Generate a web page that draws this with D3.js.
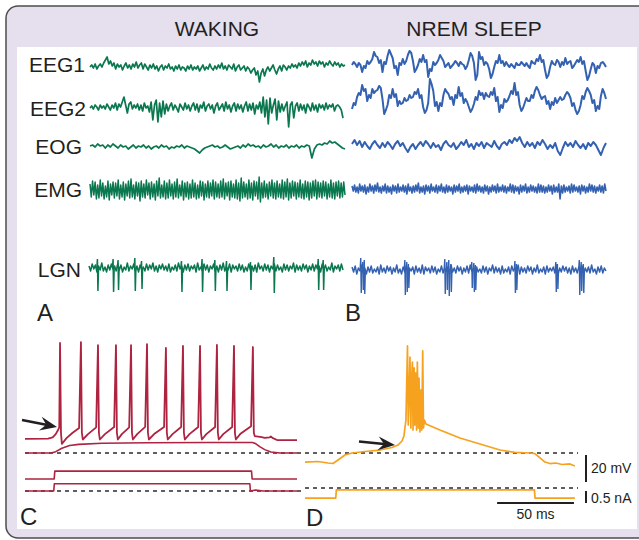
<!DOCTYPE html>
<html>
<head>
<meta charset="utf-8">
<script src="https://d3js.org/d3.v7.min.js"></script>
<style>
  body { margin: 0; background: #fff; }
  svg { display: block; }
  text { font-family: "Liberation Sans", Arial, Helvetica, sans-serif; fill: #231f20; }
</style>
</head>
<body>
<svg id="fig"></svg>
<script>
// ---- data (arbitrary units ~ px) ----
const states = ["WAKING", "NREM SLEEP"];
const channels = ["EEG1", "EEG2", "EOG", "EMG", "LGN"];
const panelLetters = ["A", "B", "C", "D"];

const eeg1Wake = [0,2,-1,3,-2,1,3,0,4,7,10,3,6,1,4, -2,3,0,2,-3,1,4,-1,2,-2,3,0,5,-1,2,
  4,-2,3,0,-3,2,-1,3,-2,1,-4,0,2,-3,1, -1,3,-2,0,-4,1,-2,2,-3,0,-1,-4,1,-2,2,
  -3,0,-2,1,-4,-1,2,-3,0,-2,3,-1,-3,1,-2, 2,-1,4,-2,1,-3,2,0,-2,3,-4,0,2,-3,-1,
  1,-4,0,-2,-6,-3,-1,-8,-4,-15,-6,-2,-9,-3,0, -4,-1,2,-3,-7,-2,1,-4,2,0,-3,1,-1,3,0,
  2,-1,4,1,5,2,6,0,4,2,7,3,5,1,6, 3,5,0,4,2,6,3,1,5,2,4,0,3,1,2];
const eeg2Wake = [0,2,-1,3,1,-2,3,0,2,-1,4,1,-2,3,0, 5,-2,4,1,6,11,3,-5,4,6,-1,3,0,4,-2,
  3,-3,5,0,2,-4,6,-12,3,8,-14,5,-9,7,-6, 4,-3,2,5,-2,3,0,-4,4,1,-2,5,-1,3,-3,
  2,5,-2,4,-4,3,0,6,-3,2,4,-1,3,-5,2, 5,-2,1,4,-3,6,-1,3,-4,2,5,-3,4,-1,3,
  -4,2,6,-3,4,-2,5,-6,3,-1,6,-5,11,-9,8, -16,10,-5,3,9,-12,7,-4,4,-3,2,6,-19,3,6,
  -10,2,5,-3,4,-2,3,-5,4,1,-3,5,-2,3,-4, 4,0,3,-2,5,-1,3,1,4,-3,2,3,1,-2,-10];
const eogWake = [1,2,0,3,1,2,-1,2,0,3, 1,-1,2,0,1,-2,0,2,-1,1, 0,2,-1,1,-2,0,1,-1,2,0,
  1,-2,0,-1,1,0,2,-1,1,0, -1,-2,-4,-6,-3,-1,0,1,2,0, 1,-1,0,2,0,-2,-1,0,1,-1,
  2,0,3,1,2,0,1,-1,2,0, 1,3,0,2,-1,1,0,2,-1,1, 0,2,-1,1,0,2,1,-11,-2,2, 3,2,4,3,6,4,5,3,1,-1,-2];
const emgWake = [6,-7,9,-5,8,-9,5,-8,10,-6,7,-9,4,-7,9,-10,6,-5,8,-8,
  7,-6,10,-9,5,-7,8,-10,6,-6,9,-8,11,-7,5,-9,8,-6,7,-11,
  9,-7,6,-8,10,-5,7,-9,8,-7,6,-10,9,-6,12,-8,5,-7,9,-9,
  7,-8,10,-6,6,-9,8,-7,11,-8,5,-6,9,-10,7,-7,8,-9,6,-8,
  10,-7,7,-9,5,-8,9,-6,8,-10,6,-7,9,-8,7,-6,10,-9,8,-7,
  6,-8,9,-7,11,-9,7,-6,8,-10,9,-7,6,-8,10,-9,7,-11,12,-8,
  8,-7,6,-9,10,-8,7,-10,9,-6,8,-9,13,-12,7,-8,9,-7,6,-9,
  8,-6,10,-8,7,-9,9,-7,6,-8,10,-9,8,-7,11,-10,7,-8,9,-6,
  8,-9,7,-7,10,-8,6,-9,9,-7,8,-10,7,-8,9,-6,10,-9,8,-7,
  7,-8,9,-6,8,-9,6,-7,10,-8,7,-9,8,-6,9,-8,7,-7,8,-5];
const lgnWakeNoise = [2,-3,4,-1,3,-4,2,-2,5,-3,1,-4,3,-2,4,-1,2,-3,4,-2,
  3,-4,1,-2,5,-3,2,-1,4,-3,2,-4,3,-2,1,-3,4,-2,3,-1,
  5,-3,2,-4,3,-1,4,-2,2,-3,4,-4,1,-2,3,-3,5,-1,2,-4,
  3,-2,4,-3,2,-1,3,-4,5,-2,1,-3,4,-2,3,-4,2,-1,4,-3,
  2,-4,3,-2,5,-3,1,-2,4,-4,3,-1,2,-3,4,-2,3,-4,1,-3,
  4,-2,2,-3,3,-4,5,-1,2,-3,4,-2,3,-4,2,-1,4,-3,3,-2,
  1,-4,4,-2,3,-3,2,-1,5,-4,3,-2,2,-3,4,-1,3,-4,2,-2,
  4,-3,3,-1,2,-4,4,-2,3,-3,1,-2,5,-4,2,-1,3,-3,4,-2];
// [sample position, down-deflection, up-deflection]
const lgnWakeSpikes = [[5.4,23,9],[15.2,24,9],[18.3,22,8],[28.8,23,10],[33,21,7],[58,24,7],
  [70.9,24,9],[78.9,23,8],[86.2,23,7],[101.2,22,6],[115.8,25,11],[143.6,22,9],[146.7,22,8]];

const eeg1Nrem = [0,3,1,-2,2,0,-7,-1,-3,4,1,3,6,13,9,8,2,5,-7,3,1,9,15,11,7,-3,-1,-10,2,0,
  6,1,4,10,14,12,4,-7,-4,0,6,3,10,3,5,-12,-4,-6,3,0,2,5,10,7,4,-2,0,2,-3,-1,
  1,4,2,-1,3,1,0,-4,-1,5,12,9,2,-15,-10,13,6,8,0,3,1,-4,-13,-9,-2,4,2,10,2,4,
  -1,3,0,-2,1,-1,-3,2,0,0,3,1,-1,2,-1,-3,4,2,1,6,4,10,3,5,-5,-13,-10,-2,4,1,
  0,5,3,-2,3,0,7,1,3,4,-3,-1,2,5,3,8,1,4,-6,-15,-11,-4,2,0,-8,-1,-3,2,3,1,-2];
const eeg2Nrem = [-8,-2,-4,4,8,6,16,10,12,0,6,3,12,8,10,11,15,13,2,-13,-9,-4,6,3,12,4,7,-5,0,-3,
  -2,3,0,1,6,3,4,9,7,12,3,6,-6,-12,-9,-2,22,17,10,-5,-1,-10,-2,-5,6,12,9,7,2,4,
  -4,6,3,14,5,8,-2,2,-1,-6,-11,-8,-3,4,1,10,6,8,2,8,5,4,9,6,13,0,4,-11,-4,-7,
  2,-1,1,5,10,7,18,6,9,-4,-10,-7,-2,3,0,0,6,3,10,14,11,6,2,4,5,-3,0,-8,-1,-4,
  3,-2,1,4,1,2,6,9,7,3,-5,-2,-9,-13,-10,-4,5,2,9,13,10,6,-2,1,-10,-5,-8,5,12,8,2];
const eogNrem = [2,6,1,5,-1,4,0,-3,2,5, 1,-2,3,-1,4,1,-3,2,5,0, 3,-2,-6,-1,2,-3,1,4,0,5,
  2,-2,3,-1,1,-4,2,5,1,-1, 3,-3,0,4,1,6,-1,2,-3,3, 0,4,-2,3,1,-1,5,0,-3,2,
  4,1,6,3,8,5,9,3,-1,4, 0,3,-2,4,1,6,2,-3,1,-2, 3,-5,-9,-2,4,0,3,-1,5,1, -2,2,-3,3,0,4,1,-4,-9,-2,3];
const emgNrem = [3,-2,4,-3,2,-4,5,-2,3,-3,4,-5,2,-3,5,-2,3,-4,4,-2,
  6,-3,2,-4,3,-2,5,-4,3,-3,2,-5,4,-2,3,-4,5,-3,2,-2,
  4,-3,3,-5,5,-2,2,-4,3,-3,4,-2,6,-4,2,-3,3,-5,4,-2,
  3,-4,5,-2,2,-3,4,-4,3,-2,5,-3,2,-4,4,-3,3,-2,2,-5,
  4,-3,3,-2,5,-4,2,-3,3,-2,4,-5,3,-2,2,-3,4,-4,5,-2,
  3,-3,2,-4,4,-2,3,-5,2,-3,4,-2,3,-4,5,-3,2,-2,4,-3,
  3,-4,2,-2,5,-3,4,-4,3,-2,2,-5,4,-3,3,-2,5,-4,2,-3,
  4,-2,3,-3,2,-4,5,-3,4,-3,3,-4,2,-3,4,-2,3,-5,4,-3,
  2,-3,5,-10,3,-4,4,-3,2,-2,3,-4,5,-3,4,-2,2,-3,3,-5,
  4,-2,3,-4,2,-3,5,-2,4,-3,3,-4,2,-2,4,-3,3,-4,5,-2];
const lgnNremNoise = [3,-2,4,-4,2,-1,5,-3,2,-4,3,-2,4,-3,1,-2,3,-4,5,-2,
  2,-3,4,-1,3,-4,2,-2,5,-3,1,-4,3,-2,4,-3,2,-1,3,-4,
  4,-2,2,-3,5,-4,3,-1,2,-3,4,-2,3,-4,1,-2,4,-3,2,-1,
  3,-4,5,-2,2,-3,4,-1,3,-4,2,-2,4,-3,5,-1,2,-4,3,-2,
  1,-3,4,-2,3,-4,2,-1,5,-3,3,-2,2,-4,4,-3,1,-2,3,-4,
  4,-1,2,-3,5,-4,3,-2,2,-3,4,-1,3,-4,2,-2,5,-3,1,-2,
  3,-4,4,-2,2,-1,3,-3,5,-4,2,-2,4,-1,3,-3,2,-4,4,-2,
  2,-3,3,-1,4,-4,2,-2,3,-3,5,-2,1,-4,3,-2,4,-3,2,-1];
const lgnNremSpikes = [[5.6,23,12],[6.9,20,8],[7.8,24,10],[33.2,25,10],[34.4,22,8],[35.4,18,6],
  [58.2,24,11],[59.5,20,8],[60.7,26,10],[62,22,6],[75.1,18,8],[76.4,22,7],[77.3,20,5],
  [102.1,23,9],[103,20,6],[127.7,22,8],[128.7,19,6],[142.4,25,10],[143.6,21,8],[144.9,23,6]];

// panel C, [ms, mV]
const cSpiking = [[0,-54.5],[15,-54.3],[18,-53.5],[20,-51],[21.5,-48],[22.3,-46],[22.8,16.5],[23.4,-50],[24,-58.3],[27,-54],[31,-50],[35.2,-46.5],
  [36.4,17.2],[37,-50],[37.6,-55],[41,-51],[46.3,-46],
  [47.5,14.9],[48.1,-50],[48.7,-55],[52,-51],[58,-45.7],
  [59.2,14.9],[59.8,-50],[60.4,-55],[63,-51],[67.8,-46],
  [69,14.9],[69.6,-50],[70.2,-55],[73,-51],[78.2,-45.7],
  [79.4,15.7],[80,-50],[80.6,-55],[84,-51],[90.5,-45.7],
  [91.7,12.8],[92.3,-50],[92.9,-55],[96,-51],[101.6,-45.7],
  [102.8,14.3],[103.4,-50],[104,-55],[107,-51],[112.7,-45.7],
  [113.9,14.3],[114.5,-50],[115.1,-55],[118,-51],[123.7,-45.7],
  [124.9,15],[125.5,-50],[126.1,-55],[129,-51],[134.8,-45.7],
  [136,14.3],[136.6,-50],[137.2,-55],[140,-51],[147.1,-45.2],
  [148.3,13.5],[148.9,-50],[149.5,-52.5],[154,-53.3],[156,-53.8],[159,-53.5],[160,-52.8],[161,-53.8],[164,-55.4],[177,-55.4]];
const cSubthreshold = [[0,-65],[17,-65],[20,-64],[24,-61.5],[29,-59.5],[35,-58.6],[50,-57.8],[80,-57.4],[120,-57.2],
  [148,-57.2],[150,-58],[153,-60.5],[156,-62.5],[160,-64.3],[166,-65],[177,-65]];
// panel C currents, [ms, nA]
const cCurrentHigh = [[0,0.5],[19,0.5],[19.4,0.83],[147.4,0.83],[147.8,0.5],[177,0.5]];
const cCurrentLow = [[0,0],[18.7,0],[19.1,0.3],[146.3,0.3],[146.7,0],[150,0.04],[155,0],[177,0]];

// panel D, [ms, mV]
const dBurst = [[0,-71.7],[8.5,-71.3],[15,-72.4],[18.2,-72.8],[21.5,-70.2],[26,-66.5],[30.6,-65],[39,-63.9],[48.8,-62.8],
  [56.6,-60.9],[60.5,-59.1],[63.1,-56.1],[64.4,-52.4],[65,-46.5],
  [65.7,-40.6],[66.7,14.3],[67.2,-44.3],[67.7,-25.7],[68.3,6.1],[68.9,-46.5],[69.3,-11],[69.9,2.4],[70.3,-48],
  [71,-2],[71.5,-44.3],[72.1,-5.7],[72.6,-48],[73.1,2.4],[73.8,-46.5],[74.2,-9.6],[74.8,-49.4],[75.5,-18.3],
  [76,-48],[76.6,10.6],[77.1,-46.5],[77.7,-40.6],[78.7,-43.5],
  [87.8,-48],[100.8,-53.9],[113.9,-58.3],[126.9,-62.8],[136.6,-64.6],[146.4,-65],[149.6,-65.4],
  [156.2,-71.7],[159.4,-72.8],[163.3,-72.4],[167.2,-73.5],[172.4,-73.1],[175.6,-74.6]];
const dCurrent = [[0,-0.42],[20,-0.42],[20.4,-0.08],[149.3,-0.08],[149.7,-0.42],[175.6,-0.42]];

const scaleBars = { mV: 20, nA: 0.5, ms: 50 };

// ---- drawing ----
const W = 639, H = 540;
const svg = d3.select("#fig").attr("width", W).attr("height", H);

const green = "#0a774e", blue = "#3462b1", red = "#ad2340", orange = "#f6a21e";

// frame
svg.append("rect").attr("x", 6).attr("y", 6).attr("width", 680).attr("height", 532)
  .attr("rx", 12).attr("fill", "#e5dfee").attr("stroke", "#4d4d4d").attr("stroke-width", 1.5);
svg.append("rect").attr("x", 17).attr("y", 47).attr("width", 620).attr("height", 482).attr("fill", "#fff");

// headers
svg.selectAll("text.hdr").data(states).enter().append("text")
  .attr("class", "hdr")
  .attr("x", (d, i) => [217, 474][i]).attr("y", 36)
  .attr("text-anchor", "middle").attr("font-size", 21).text(d => d);

// row labels
const rowBase = [72, 116, 154, 197, 277];
const rowRight = [85, 86, 82, 82, 81];
svg.selectAll("text.lbl").data(channels).enter().append("text")
  .attr("class", "lbl")
  .attr("x", (d, i) => rowRight[i]).attr("y", (d, i) => rowBase[i])
  .attr("text-anchor", "end").attr("font-size", 21).text(d => d);

// panel letters
const letterPos = [[37, 320.5], [345, 320.5], [20, 525], [306, 526]];
svg.selectAll("text.letter").data(panelLetters).enter().append("text")
  .attr("class", "letter")
  .attr("x", (d, i) => letterPos[i][0]).attr("y", (d, i) => letterPos[i][1])
  .attr("font-size", 24).text(d => d);

function trace(data, x0, x1, cy, color, width) {
  const x = d3.scaleLinear().domain([0, data.length - 1]).range([x0, x1]);
  const y = d3.scaleLinear().domain([-20, 20]).range([cy + 20, cy - 20]);
  svg.append("path").datum(data)
    .attr("d", d3.line().x((d, i) => x(i)).y(d => y(d)))
    .attr("fill", "none").attr("stroke", color).attr("stroke-width", width)
    .attr("stroke-linejoin", "round");
  return { x, y };
}

function spikes(list, sc, color, width) {
  svg.append("g").selectAll("path").data(list).enter().append("path")
    .attr("d", d => {
      const xs = sc.x(d[0]);
      return `M${xs - 0.8},${sc.y(0)}L${xs - 0.2},${sc.y(d[2])}L${xs + 0.3},${sc.y(-d[1])}L${xs + 0.9},${sc.y(0)}`;
    })
    .attr("fill", "none").attr("stroke", color).attr("stroke-width", width);
}

const WX = [90, 345], NX = [352, 606];
trace(eeg1Wake, WX[0], WX[1], 67, green, 1.7);
trace(eeg2Wake, WX[0], 343, 108, green, 1.7);
trace(eogWake, WX[0], WX[1], 147, green, 1.7);
trace(emgWake, WX[0], WX[1], 190, green, 1.5);
const lw = trace(lgnWakeNoise, 89, 343, 268, green, 1.5);
spikes(lgnWakeSpikes, lw, green, 1.5);

trace(eeg1Nrem, NX[0], NX[1], 65, blue, 2);
trace(eeg2Nrem, NX[0], NX[1], 101, blue, 2);
trace(eogNrem, NX[0], NX[1], 146, blue, 2);
trace(emgNrem, NX[0], NX[1], 189, blue, 1.6);
const ln = trace(lgnNremNoise, NX[0], NX[1], 270, blue, 1.5);
spikes(lgnNremSpikes, ln, blue, 1.4);

// intracellular panels
const yV = d3.scaleLinear().domain([-65, 15]).range([453, 345]);
const xC = d3.scaleLinear().domain([0, 177]).range([25, 297]);
const xD = d3.scaleLinear().domain([0, 177]).range([305, 577]);
const yIC = d3.scaleLinear().domain([0, 1]).range([491, 467]);
const yID = d3.scaleLinear().domain([0, 1]).range([488, 464]);

const dash = (x1, x2, y) => svg.append("line").attr("x1", x1).attr("x2", x2).attr("y1", y).attr("y2", y)
  .attr("stroke", "#2a2a2a").attr("stroke-width", 1.3).attr("stroke-dasharray", "4,4");
dash(25, 578, yV(-65));
dash(25, 302, yIC(0));
dash(305, 578, yID(0));

function ptrace(data, xs, ys, color, width) {
  svg.append("path").datum(data)
    .attr("d", d3.line().x(d => xs(d[0])).y(d => ys(d[1])))
    .attr("fill", "none").attr("stroke", color).attr("stroke-width", width)
    .attr("stroke-linejoin", "round");
}
ptrace(cSubthreshold, xC, yV, red, 1.6);
ptrace(cSpiking, xC, yV, red, 1.8);
ptrace(cCurrentHigh, xC, yIC, red, 1.6);
ptrace(cCurrentLow, xC, yIC, red, 1.6);
ptrace(dBurst, xD, yV, orange, 1.7);
ptrace(dCurrent, xD, yID, orange, 1.7);

// scale bars
const barX = 586;
svg.append("line").attr("x1", barX).attr("x2", barX)
  .attr("y1", yV(-66.5)).attr("y2", yV(-66.5 - scaleBars.mV))
  .attr("stroke", "#231f20").attr("stroke-width", 2);
svg.append("line").attr("x1", barX).attr("x2", barX)
  .attr("y1", yID(-0.12)).attr("y2", yID(-0.12 - scaleBars.nA))
  .attr("stroke", "#231f20").attr("stroke-width", 2);
svg.append("line").attr("x1", xD(125)).attr("x2", xD(125 + scaleBars.ms))
  .attr("y1", 503).attr("y2", 503).attr("stroke", "#231f20").attr("stroke-width", 2);
svg.append("text").attr("x", 591).attr("y", 473).attr("font-size", 14).text(scaleBars.mV + " mV");
svg.append("text").attr("x", 591).attr("y", 502.5).attr("font-size", 14).text(scaleBars.nA + " nA");
svg.append("text").attr("x", xD(125 + scaleBars.ms / 2)).attr("y", 519).attr("text-anchor", "middle")
  .attr("font-size", 14).text(scaleBars.ms + " ms");

// arrows
function arrow(x1, y1, x2, y2) {
  const a = Math.atan2(y2 - y1, x2 - x1), L = 17, Wd = 7, n = 11;
  const px = -Math.sin(a), py = Math.cos(a);
  const bx = x2 - L * Math.cos(a), by = y2 - L * Math.sin(a);
  const nx = x2 - n * Math.cos(a), ny = y2 - n * Math.sin(a);
  svg.append("line").attr("x1", x1).attr("y1", y1).attr("x2", nx).attr("y2", ny)
    .attr("stroke", "#231f20").attr("stroke-width", 2.6);
  svg.append("path")
    .attr("d", `M${x2},${y2}L${bx + px * Wd},${by + py * Wd}L${nx},${ny}L${bx - px * Wd},${by - py * Wd}Z`)
    .attr("fill", "#231f20");
}
arrow(22, 420, 57, 427);
arrow(359, 441.5, 395, 445);
</script>
</body>
</html>
